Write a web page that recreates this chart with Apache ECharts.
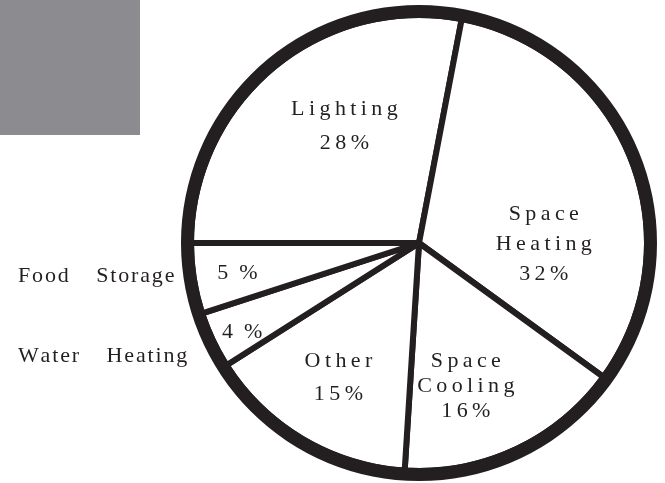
<!DOCTYPE html>
<html>
<head>
<meta charset="utf-8">
<script src="https://cdn.jsdelivr.net/npm/echarts@6/dist/echarts.min.js"></script>
<style>
html, body { margin: 0; padding: 0; background: #fff; }
#chart { width: 665px; height: 483px; }
</style>
</head>
<body>
<div id="chart"></div>
<script>
const categories = ['Lighting', 'Space Heating', 'Space Cooling', 'Other', 'Water Heating', 'Food Storage'];
const shares = [28, 32, 16, 15, 4, 5];
// these two carry their name outside, to the left of the circle
const outsideNames = ['Food Storage', 'Water Heating'];

const ink = '#231f20';
const font = '"Liberation Serif", "Times New Roman", serif';

// the figure uses wide letter spacing, fake it with thin spaces
function spaced(s) {
  return s.split('').join('\u2009');
}

// nudges for the labels inside the slices (same order as categories)
const innerShift = [[0, -27], [16, 44], [-3, 37], [-21, 34], [-71, 39], [-66, 12]];
const lineGap = [34, 30, 25, 33, 22, 22];
const outerShift = { 'Food Storage': -5, 'Water Heating': 10 };

const chart = echarts.init(document.getElementById('chart'));
chart.setOption({
  animation: false,
  graphic: [{
    type: 'rect',
    left: 0,
    top: 0,
    shape: { width: 140, height: 135 },
    style: { fill: '#8c8c90' },
    z: -10
  }],
  series: [
    {
      type: 'pie',
      center: [419, 243],
      radius: [0, 228],
      startAngle: 180,
      clockwise: true,
      silent: true,
      itemStyle: { color: '#fff', borderColor: ink, borderWidth: 6 },
      label: {
        show: true,
        position: 'inside',
        color: ink,
        fontFamily: font,
        fontSize: 22,
        formatter: p => {
          if (outsideNames.includes(p.name)) return p.value + '\u2002%';
          return p.name.split(' ').map(spaced).concat(spaced(p.value + '%')).join('\n');
        }
      },
      labelLine: { show: false },
      labelLayout: p => ({ dx: innerShift[p.dataIndex][0], dy: innerShift[p.dataIndex][1] }),
      data: categories.map((name, i) => ({ name, value: shares[i], label: { lineHeight: lineGap[i] } }))
    },
    {
      // invisible copy, only used for the names written outside
      type: 'pie',
      center: [419, 243],
      radius: [0, 228],
      startAngle: 180,
      clockwise: true,
      silent: true,
      avoidLabelOverlap: false,
      itemStyle: { color: 'rgba(0,0,0,0)', borderWidth: 0 },
      label: {
        position: 'outside',
        alignTo: 'edge',
        edgeDistance: 18,
        color: ink,
        fontFamily: font,
        fontSize: 22,
        formatter: p => p.name.split(' ').map(w => w.split('').join('\u200a')).join('\u2003 ')
      },
      labelLine: { show: false },
      labelLayout: p => ({ dy: outerShift[categories[p.dataIndex]] || 0 }),
      data: categories.map((name, i) => ({ name, value: shares[i], label: { show: outsideNames.includes(name) } }))
    },
    {
      // the heavy outer rim
      type: 'pie',
      center: [419, 243],
      radius: [225, 238],
      silent: true,
      label: { show: false },
      itemStyle: { color: ink },
      data: [{ value: 1 }]
    }
  ]
});
window.addEventListener('resize', () => {
  chart.resize();
});
</script>
</body>
</html>
